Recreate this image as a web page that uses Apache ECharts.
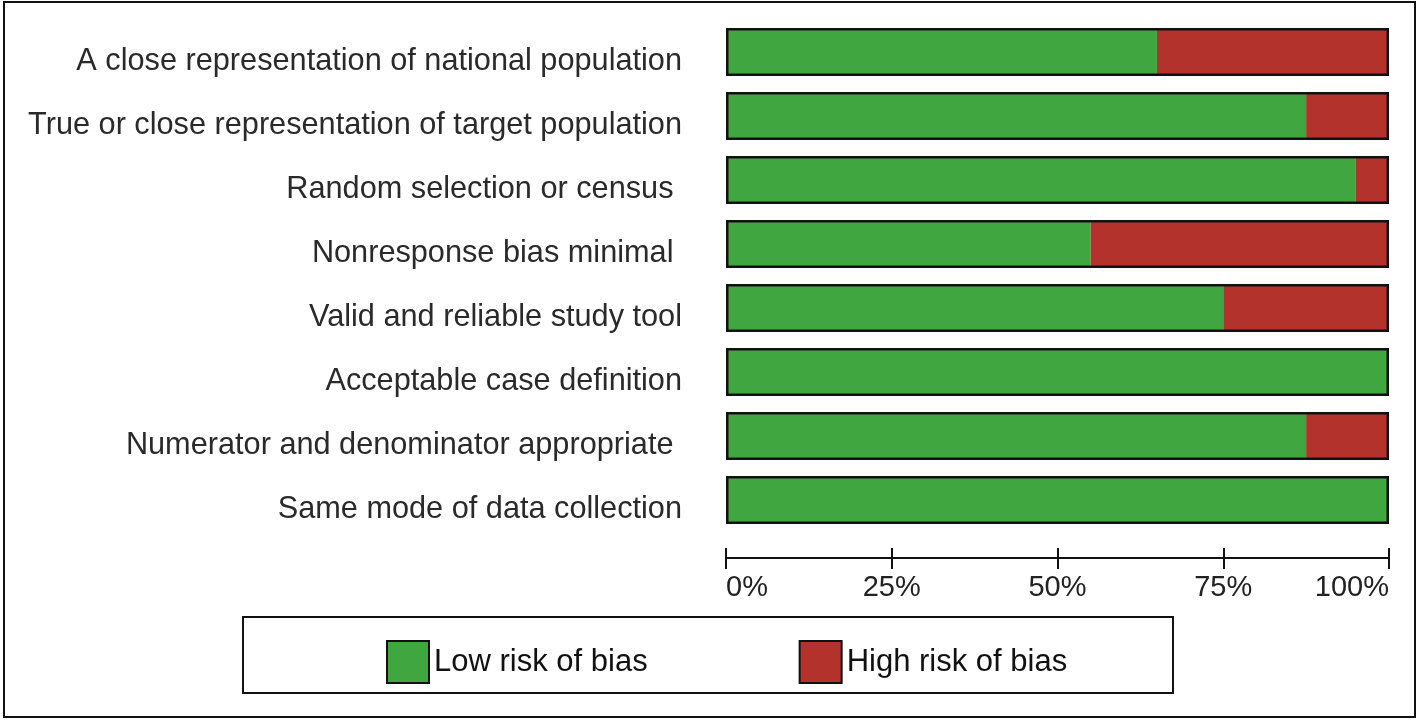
<!DOCTYPE html>
<html>
<head>
<meta charset="utf-8">
<script src="https://cdn.jsdelivr.net/npm/echarts@6/dist/echarts.min.js"></script>
<style>html,body{margin:0;padding:0;background:#fff}#c{width:1418px;height:722px}</style>
</head>
<body>
<div id="c"></div>
<script>
var categories = [
  'A close representation of national population',
  'True or close representation of target population',
  'Random selection or census ',
  'Nonresponse bias minimal ',
  'Valid and reliable study tool',
  'Acceptable case definition',
  'Numerator and denominator appropriate ',
  'Same mode of data collection'
];
var lowRisk  = [65, 87.5, 95, 55, 75, 100, 87.5, 100];
var highRisk = [35, 12.5, 5, 45, 25, 0, 12.5, 0];
var seriesNames = ['Low risk of bias', 'High risk of bias'];
var totals = lowRisk.map(function (v, i) { return v + highRisk[i]; });

var GREEN = '#40a640', RED = '#b3322c', INK = '#111';
var chart = echarts.init(document.getElementById('c'), null, {renderer: 'canvas'});
var axisBase = {
  type: 'value', min: 0, max: 100, interval: 25, position: 'bottom', offset: 26,
  axisLine: {show: true, lineStyle: {color: INK, width: 2}},
  splitLine: {show: false}
};
chart.setOption({
  animation: false,
  backgroundColor: '#fff',
  textStyle: {fontFamily: 'Liberation Sans, Arial, sans-serif'},
  grid: {left: 726, right: 29, top: 20, bottom: 190, containLabel: false},
  xAxis: [
    Object.assign({}, axisBase, {
      axisTick: {show: true, inside: true, length: 10, lineStyle: {color: INK, width: 2}},
      axisLabel: {show: false}
    }),
    Object.assign({}, axisBase, {
      axisTick: {show: true, inside: false, length: 11, lineStyle: {color: INK, width: 2}},
      axisLabel: {show: true, formatter: '{value}%', fontSize: 29, color: '#222', margin: 15,
        alignMinLabel: 'left', alignMaxLabel: 'right',
        fontFamily: 'Liberation Sans, Arial, sans-serif'}
    })
  ],
  yAxis: {
    type: 'category', inverse: true, data: categories,
    axisLine: {show: false}, axisTick: {show: false}, splitLine: {show: false},
    axisLabel: {fontSize: 30.7, color: '#2a2a2a', margin: 44, verticalAlign: 'top', lineHeight: 20,
      fontFamily: 'Liberation Sans, Arial, sans-serif'}
  },
  legend: {
    data: seriesNames, left: 381, top: 635, orient: 'horizontal',
    itemWidth: 42, itemHeight: 42, itemGap: 151,
    icon: 'rect',
    itemStyle: {borderColor: INK, borderWidth: 2},
    textStyle: {fontSize: 31, color: '#111', padding: [0, 0, 0, 0],
      fontFamily: 'Liberation Sans, Arial, sans-serif'}
  },
  graphic: [
    {type: 'rect', shape: {x: 4, y: 2, width: 1411, height: 715}, style: {fill: 'none', stroke: INK, lineWidth: 2}, silent: true},
    {type: 'rect', shape: {x: 243, y: 617, width: 930, height: 76}, style: {fill: 'none', stroke: INK, lineWidth: 2}, silent: true, z: -1}
  ],
  series: [
    {name: seriesNames[0], type: 'bar', stack: 'r', barWidth: 48, data: lowRisk,
      itemStyle: {color: GREEN}, xAxisIndex: 0},
    {name: seriesNames[1], type: 'bar', stack: 'r', barWidth: 48, data: highRisk,
      itemStyle: {color: RED}, xAxisIndex: 0},
    {name: 'outline', type: 'bar', barWidth: 48, barGap: '-100%', data: totals, z: 5,
      silent: true, xAxisIndex: 0,
      itemStyle: {color: 'rgba(0,0,0,0)', borderColor: INK, borderWidth: 2.5}}
  ]
});
</script>
</body>
</html>
